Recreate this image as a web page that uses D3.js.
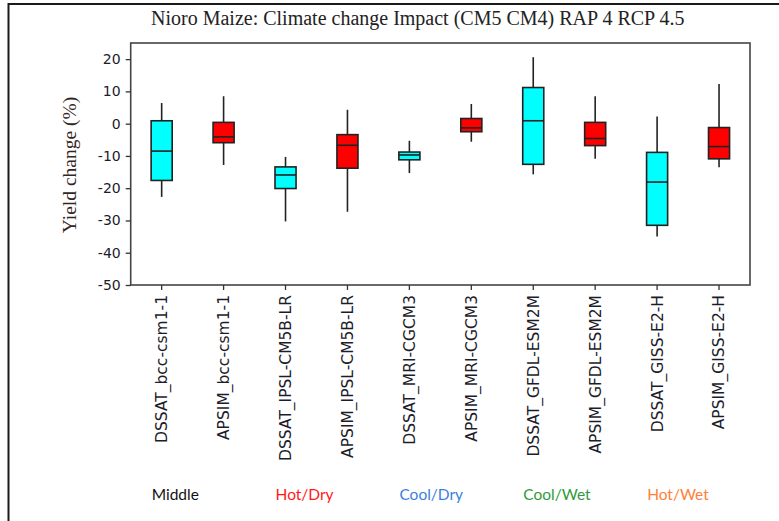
<!DOCTYPE html>
<html>
<head>
<meta charset="utf-8">
<script src="https://cdn.jsdelivr.net/npm/d3@7"></script>
<style>
  html, body { margin: 0; padding: 0; background: #fff; }
  svg { display: block; }
</style>
</head>
<body>
<svg id="chart" width="779" height="521"></svg>
<script>
// Yield change (%) per crop model / GCM combination
const categories = [
  "DSSAT_bcc-csm1-1", "APSIM_bcc-csm1-1",
  "DSSAT_IPSL-CM5B-LR", "APSIM_IPSL-CM5B-LR",
  "DSSAT_MRI-CGCM3", "APSIM_MRI-CGCM3",
  "DSSAT_GFDL-ESM2M", "APSIM_GFDL-ESM2M",
  "DSSAT_GISS-E2-H", "APSIM_GISS-E2-H"
];
const whiskerHigh = [6.4, 8.5, -10.3, 4.3, -5.3, 6.1, 20.6, 8.5, 2.2, 12.3];
const upperQuartile = [0.9, 0.4, -13.4, -3.4, -8.8, 1.6, 11.2, 0.4, -8.9, -1.2];
const medians = [-8.5, -4.1, -15.9, -6.7, -9.7, -1.3, 0.9, -4.6, -18.1, -7.1];
const lowerQuartile = [-17.6, -5.9, -20.1, -13.8, -11.2, -2.5, -12.6, -6.8, -31.5, -10.9];
const whiskerLow = [-22.7, -12.8, -30.3, -27.3, -15.3, -5.6, -15.7, -10.9, -35.0, -13.5];
const models = ["DSSAT", "APSIM", "DSSAT", "APSIM", "DSSAT", "APSIM", "DSSAT", "APSIM", "DSSAT", "APSIM"];
const yTicks = [20, 10, 0, -10, -20, -30, -40, -50];
const scenarios = ["Middle", "Hot/Dry", "Cool/Dry", "Cool/Wet", "Hot/Wet"];

const titleText = "Nioro Maize: Climate change Impact (CM5 CM4) RAP 4 RCP 4.5";
const yTitle = "Yield change (%)";

// styling
const modelFill = { DSSAT: "#00ffff", APSIM: "#ff0000" };
const scenarioColor = ["#111111", "#ff1a1a", "#3b7fe0", "#2f9a3c", "#ff7f3a"];

const svg = d3.select("#chart");
const plot = { left: 130.7, right: 750, top: 43, bottom: 285 };

const x = d3.scaleBand().domain(categories).range([plot.left, plot.right]).paddingInner(0).paddingOuter(0);
const y = d3.scaleLinear().domain([-50, 25]).range([plot.bottom, plot.top]);

const rows = categories.map((c, i) => ({
  cat: c, model: models[i],
  hi: whiskerHigh[i], q3: upperQuartile[i], med: medians[i], q1: lowerQuartile[i], lo: whiskerLow[i]
}));

// outer figure border (top and left edges)
svg.append("path")
  .attr("d", "M8.5,521 L8.5,4 L779,4")
  .attr("fill", "none").attr("stroke", "#1a1a1a").attr("stroke-width", 2);

// title
svg.append("text")
  .attr("x", 151).attr("y", 25)
  .attr("font-family", "'Liberation Serif', 'Times New Roman', serif")
  .attr("font-size", 20)
  .attr("fill", "#222")
  .text(titleText);

// plot frame
svg.append("rect")
  .attr("x", plot.left).attr("y", plot.top)
  .attr("width", plot.right - plot.left).attr("height", plot.bottom - plot.top)
  .attr("fill", "none").attr("stroke", "#444").attr("stroke-width", 1.6);

// y axis (plain hyphen for negatives)
const yAxis = svg.append("g")
  .attr("transform", `translate(${plot.left},0)`)
  .call(d3.axisLeft(y).tickValues(yTicks).tickFormat(d => String(d)).tickSize(5).tickPadding(5));
yAxis.select(".domain").remove();
yAxis.selectAll(".tick line").attr("stroke", "#333").attr("stroke-width", 1.3);
yAxis.selectAll(".tick text")
  .attr("font-family", "'DejaVu Sans', Verdana, sans-serif")
  .attr("font-size", 14).attr("fill", "#1c1c2a");

// y axis title
svg.append("text")
  .attr("transform", `translate(76,${(plot.top + plot.bottom) / 2 + 1}) rotate(-90)`)
  .attr("text-anchor", "middle")
  .attr("font-family", "'Liberation Serif', 'Times New Roman', serif")
  .attr("font-size", 19.5)
  .attr("fill", "#33261e")
  .text(yTitle);

// x axis
const xAxis = svg.append("g")
  .attr("transform", `translate(0,${plot.bottom})`)
  .call(d3.axisBottom(x).tickSize(5).tickPadding(5));
xAxis.select(".domain").remove();
xAxis.selectAll(".tick line").attr("stroke", "#333").attr("stroke-width", 1.3);
xAxis.selectAll(".tick text")
  .attr("font-family", "'DejaVu Sans', Verdana, sans-serif")
  .attr("font-size", 15.5).attr("fill", "#1c1c2a")
  .attr("text-anchor", "end")
  .attr("transform", "rotate(-90)")
  .attr("x", -10).attr("y", 0).attr("dy", "0.35em");

// boxes
const boxW = x.bandwidth() * 0.34;
const g = svg.append("g");
const box = g.selectAll("g.box").data(rows).join("g").attr("class", "box")
  .attr("transform", d => `translate(${x(d.cat) + x.bandwidth() / 2},0)`);

box.append("line")
  .attr("x1", 0).attr("x2", 0)
  .attr("y1", d => y(d.hi)).attr("y2", d => y(d.lo))
  .attr("stroke", "#222").attr("stroke-width", 1.6);

box.append("rect")
  .attr("x", -boxW / 2).attr("width", boxW)
  .attr("y", d => y(d.q3)).attr("height", d => y(d.q1) - y(d.q3))
  .attr("fill", d => modelFill[d.model])
  .attr("stroke", "#222").attr("stroke-width", 1.6);

box.append("line")
  .attr("x1", -boxW / 2).attr("x2", boxW / 2)
  .attr("y1", d => y(d.med)).attr("y2", d => y(d.med))
  .attr("stroke", "#222").attr("stroke-width", 1.6);

// scenario labels under each model pair
svg.append("g").selectAll("text").data(scenarios).join("text")
  .attr("x", (d, i) => x(categories[i * 2]) + 21)
  .attr("y", 500)
  .attr("font-family", "Lato, 'Open Sans', sans-serif")
  .attr("font-size", 15.5)
  .attr("fill", (d, i) => scenarioColor[i])
  .text(d => d);
</script>
</body>
</html>
